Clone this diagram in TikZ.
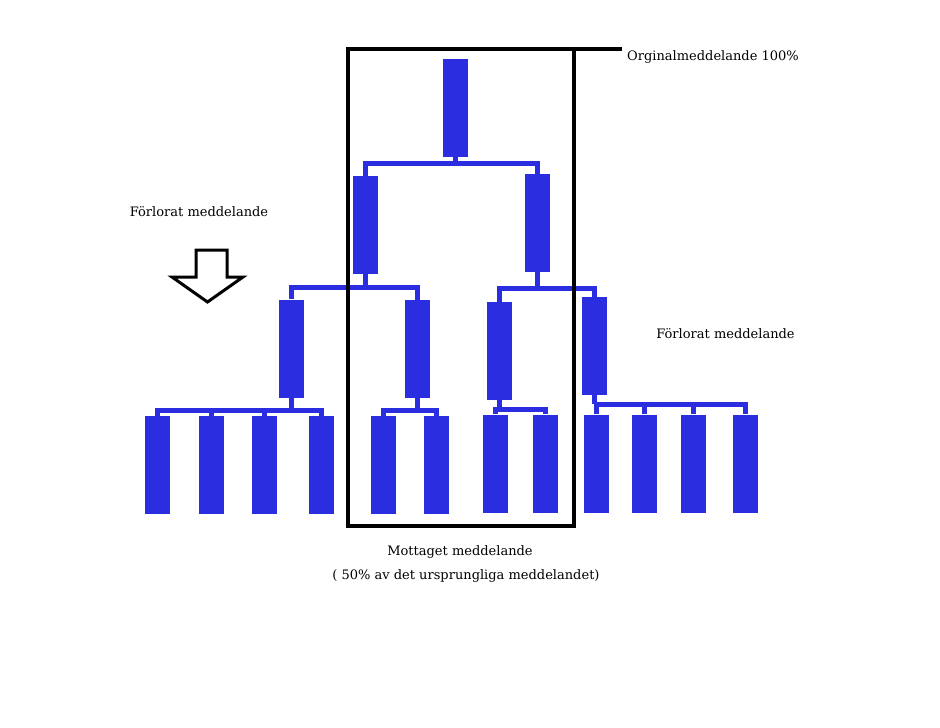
\documentclass[tikz,border=0pt]{standalone}
\usepackage{fontspec}
\setmainfont{DejaVu Serif}
\usetikzlibrary{positioning}
\definecolor{blockblue}{RGB}{42,46,224}
\tikzstyle{blk}=[fill=blockblue, inner sep=0, minimum width=25pt, minimum height=98pt]
\tikzstyle{con}=[draw=blockblue, line width=5pt]
\tikzstyle{lbl}=[inner sep=0, font=\fontsize{13}{16}\selectfont]

\begin{document}
\begin{tikzpicture}[x=1pt, y=-1pt]
    \useasboundingbox[fill=white] (0,0) rectangle (940,728);
    % blocks, level by level
    \node[blk] (r) at (455.5,107.5) {};
    \node[blk] (a2) at (365.5,225) {};
    \node[blk] (b2) at (537,223) {};
    \node[blk] (a3) at (291.5,348.5) {};
    \node[blk] (b3) at (417.5,349) {};
    \node[blk] (c3) at (499.5,351) {};
    \node[blk] (d3) at (594.5,346) {};
    \node[blk] (a4) at (157.5,465) {};
    \node[blk] (b4) at (211.5,465) {};
    \node[blk] (c4) at (264.5,465) {};
    \node[blk] (d4) at (321.5,465) {};
    \node[blk] (e4) at (383.5,465) {};
    \node[blk] (f4) at (436.5,465) {};
    \node[blk] (g4) at (495.5,463.5) {};
    \node[blk] (h4) at (545.5,463.5) {};
    \node[blk] (i4) at (596.5,463.5) {};
    \node[blk] (j4) at (644.5,463.5) {};
    \node[blk] (k4) at (693.5,463.5) {};
    \node[blk] (l4) at (745.5,463.5) {};
    % connectors
    \draw[con] (r.south) -- (r.south |- 0,163);
    \draw[con] (a2.north) |- (b2.north |- 0,163) -- (b2.north);
    \draw[con] (a2.south) -- (a2.south |- 0,287);
    \draw[con] (a3.north) |- (b3.north |- 0,287) -- (b3.north);
    \draw[con] (b2.south) -- (b2.south |- 0,288);
    \draw[con] (c3.north) |- (d3.north |- 0,288) -- (d3.north);
    \draw[con] (a3.south) -- (a3.south |- 0,410);
    \draw[con] (a4.north) |- (d4.north |- 0,410) -- (d4.north);
    \draw[con] (b4.north) -- (b4.north |- 0,410);
    \draw[con] (c4.north) -- (c4.north |- 0,410);
    \draw[con] (b3.south) -- (b3.south |- 0,410);
    \draw[con] (e4.north) |- (f4.north |- 0,410) -- (f4.north);
    \draw[con] (c3.south) -- (c3.south |- 0,409);
    \draw[con] (g4.north) |- (h4.north |- 0,409) -- (h4.north);
    \draw[con] (d3.south) -- (d3.south |- 0,404);
    \draw[con] (i4.north) |- (l4.north |- 0,404) -- (l4.north);
    \draw[con] (j4.north) -- (j4.north |- 0,404);
    \draw[con] (k4.north) -- (k4.north |- 0,404);
    % received part
    \draw[line width=4pt] (348,49) rectangle (574,526);
    \draw[line width=4pt] (574,49) -- (622,49) coordinate (tip);
    \node[lbl, anchor=west] (orig) at (627,57) {Orginalmeddelande 100\%};
    \node[lbl] (lost1) at (199,212) {Förlorat meddelande};
    \node[lbl] (lost2) at (725.5,334) {Förlorat meddelande};
    \node[lbl] (recv) at (460,552) {Mottaget meddelande};
    \node[lbl] (recv2) at (466,576) {( 50\% av det ursprungliga meddelandet)};
    % arrow
    \draw[line width=3pt, fill=white, line join=miter]
        (196,250) -- (227,250) -- (227,277) -- (243,277) -- (207.5,302)
        -- (172,277) -- (196,277) -- cycle;
\end{tikzpicture}
\end{document}
